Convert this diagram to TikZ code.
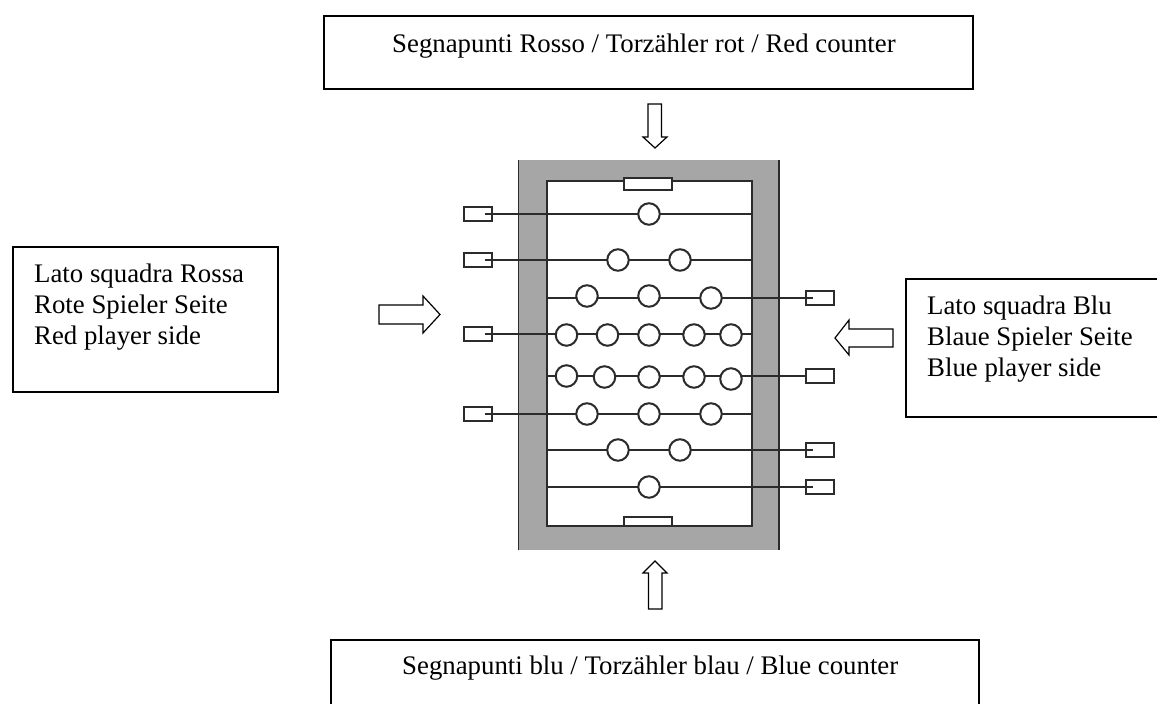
\documentclass[tikz,border=0pt]{standalone}
\usepackage{fontspec}
\setmainfont{Liberation Serif}
\definecolor{tablegray}{HTML}{A6A6A6}
\definecolor{ink}{HTML}{2B2B2B}
\tikzset{
  x=1pt,y=-1pt,
  boxline/.style={draw=black,line width=1.4pt},
  label/.style={anchor=base west,inner sep=0pt,font=\fontsize{26.8}{31}\selectfont},
  arrowshape/.style={draw=black,fill=white,line width=1.2pt,line join=miter},
  rod/.style={draw=ink,line width=1.9pt},
  man/.style={circle,draw=ink,line width=2pt,fill=white,minimum size=21.5pt,inner sep=0pt},
  handle/.style={rectangle,draw=ink,line width=2pt,fill=white,minimum width=28pt,minimum height=14pt,inner sep=0pt},
}
\begin{document}
\begin{tikzpicture}
\useasboundingbox (0,0) rectangle (1157,704);
% text boxes
\draw[boxline] (324,16) rectangle (973,89);
\draw[boxline] (13,247) rectangle (278,392);
\draw[boxline] (1160,279) -- (906,279) -- (906,417) -- (1160,417);
\draw[boxline] (331,710) -- (331,640) -- (979,640) -- (979,710);
\node[label] (tTop) at (392,52) {Segnapunti Rosso / Torzähler rot / Red counter};
\node[label] (tBot) at (402,674) {Segnapunti blu / Torzähler blau / Blue counter};
\node[label] (tL1) at (34,282) {Lato squadra Rossa};
\node[label] (tL2) at (34,313) {Rote Spieler Seite};
\node[label] (tL3) at (34,344) {Red player side};
\node[label] (tR1) at (927,314) {Lato squadra Blu};
\node[label] (tR2) at (927,345) {Blaue Spieler Seite};
\node[label] (tR3) at (927,376) {Blue player side};
% arrows
\draw[arrowshape] (648,104) -- (661.5,104) -- (661.5,137) -- (667,137) -- (655,148) -- (643,137) -- (648,137) -- cycle;
\draw[arrowshape] (648.5,609) -- (662,609) -- (662,573) -- (667,573) -- (655,561) -- (643,573) -- (648.5,573) -- cycle;
\draw[arrowshape] (379,305) -- (423,305) -- (423,296) -- (440,314.5) -- (423,333) -- (423,324) -- (379,324) -- cycle;
\draw[arrowshape] (893,329) -- (849,329) -- (849,320) -- (835,338) -- (849,355) -- (849,347) -- (893,347) -- cycle;
% table
\fill[tablegray] (518,160) rectangle (780,550);
\draw[rod] (518.5,160) -- (518.5,550) (779,160) -- (779,550);
\draw[rod,fill=white] (546.7,180.7) rectangle (752,525.7);
\draw[rod,fill=white] (624,178) rectangle (672,190);
\draw[rod,fill=white] (624,517) rectangle (672,526);
% rod ends
\coordinate (e1) at (752,214);
\coordinate (e2) at (752,260);
\coordinate (e3) at (546.7,298);
\coordinate (e4) at (752,334);
\coordinate (e5) at (546.7,376);
\coordinate (e6) at (752,414);
\coordinate (e7) at (546.7,450);
\coordinate (e8) at (546.7,487);
% handles
\node[handle] (h1) at (477.5,214) {};
\node[handle] (h2) at (477.5,260) {};
\node[handle] (h3) at (820,298) {};
\node[handle] (h4) at (477.5,334) {};
\node[handle] (h5) at (820,376) {};
\node[handle] (h6) at (477.5,414) {};
\node[handle] (h7) at (820,450) {};
\node[handle] (h8) at (820,487) {};
% rods
\draw[rod] ([xshift=-8pt]h1.east) -- (e1);
\draw[rod] ([xshift=-8pt]h2.east) -- (e2);
\draw[rod] (e3) -- ([xshift=8pt]h3.west);
\draw[rod] ([xshift=-8pt]h4.east) -- (e4);
\draw[rod] (e5) -- (h5.west);
\draw[rod] ([xshift=-8pt]h6.east) -- (e6);
\draw[rod] (e7) -- ([xshift=8pt]h7.west);
\draw[rod] (e8) -- ([xshift=8pt]h8.west);
% players
\node[man] (a1) at (649,214) {};
\node[man] (b1) at (618,260) {};
\node[man] (b2) at (680,260) {};
\node[man] (c1) at (587,296) {};
\node[man] (c2) at (649,296) {};
\node[man] (c3) at (711,298) {};
\node[man] (d1) at (566.5,335) {};
\node[man] (d2) at (607.5,335) {};
\node[man] (d3) at (649,335) {};
\node[man] (d4) at (694,335) {};
\node[man] (d5) at (731,335) {};
\node[man] (f1) at (566.5,376) {};
\node[man] (f2) at (604.5,377) {};
\node[man] (f3) at (649,377) {};
\node[man] (f4) at (694,377) {};
\node[man] (f5) at (731,379) {};
\node[man] (g1) at (587,414) {};
\node[man] (g2) at (649,414) {};
\node[man] (g3) at (711,414) {};
\node[man] (i1) at (618,450) {};
\node[man] (i2) at (680,450) {};
\node[man] (j1) at (649,487) {};
\end{tikzpicture}
\end{document}
